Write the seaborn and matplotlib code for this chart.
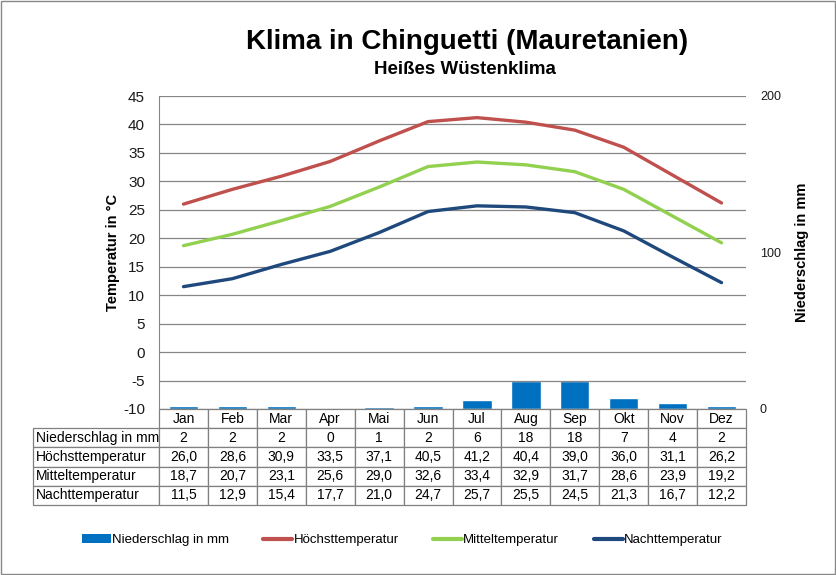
import numpy as np
import pandas as pd
import matplotlib
matplotlib.use("Agg")
import matplotlib.pyplot as plt
import seaborn as sns
from matplotlib.patches import Patch, Rectangle
from matplotlib.lines import Line2D

# Daten
monate = ['Jan', 'Feb', 'Mar', 'Apr', 'Mai', 'Jun', 'Jul', 'Aug', 'Sep', 'Okt', 'Nov', 'Dez']
niederschlag = [2, 2, 2, 0, 1, 2, 6, 18, 18, 7, 4, 2]
hoechst = [26.0, 28.6, 30.9, 33.5, 37.1, 40.5, 41.2, 40.4, 39.0, 36.0, 31.1, 26.2]
mittel = [18.7, 20.7, 23.1, 25.6, 29.0, 32.6, 33.4, 32.9, 31.7, 28.6, 23.9, 19.2]
nacht = [11.5, 12.9, 15.4, 17.7, 21.0, 24.7, 25.7, 25.5, 24.5, 21.3, 16.7, 12.2]

farbe_regen = '#0070C0'
farbe_hoch = '#C0504D'
farbe_mittel = '#92D050'
farbe_nacht = '#1F497D'

df = pd.DataFrame({'pos': np.arange(len(monate)), 'Monat': monate,
                   'Niederschlag': niederschlag, 'Hoch': hoechst,
                   'Mittel': mittel, 'Nacht': nacht})

sns.set_style("white")
plt.rcParams['font.family'] = ['Liberation Sans', 'DejaVu Sans']
plt.rcParams['axes.unicode_minus'] = False
plt.rcParams['text.color'] = 'black'
plt.rcParams['axes.labelcolor'] = 'black'

fig = plt.figure(figsize=(8.36, 5.75), dpi=100)
ax = fig.add_axes([159 / 836, 1 - 409 / 575, 587 / 836, 313 / 575])
ax2 = ax.twinx()

# Niederschlag als Balken (rechte Achse)
sns.barplot(x='pos', y='Niederschlag', data=df, ax=ax2, color=farbe_regen,
            saturation=1, width=0.6, zorder=2)

# Temperaturlinien (linke Achse)
for spalte, farbe in [('Hoch', farbe_hoch), ('Mittel', farbe_mittel), ('Nacht', farbe_nacht)]:
    sns.lineplot(x='pos', y=spalte, data=df, ax=ax, color=farbe, linewidth=2.4,
                 solid_capstyle='round', zorder=3)

ax.set_xlim(-0.5, len(monate) - 0.5)
ax.set_ylim(-10, 45)
ax.set_yticks(range(-10, 46, 5))
ax2.set_ylim(0, 200)
ax2.set_yticks([0, 100, 200])
ax.grid(axis='y', color='#868686', linewidth=0.9)
ax.set_axisbelow(True)
ax.set_xticks([])
ax2.set_xticks([])
ax.set_xlabel('')
ax2.set_xlabel('')
for s in ['top', 'right', 'bottom']:
    ax.spines[s].set_visible(False)
    ax2.spines[s].set_visible(False)
ax2.spines['left'].set_visible(False)
ax.spines['left'].set_color('#868686')
ax.tick_params(axis='y', length=0, labelsize=11, pad=10, colors='#1a1a1a')
ax2.tick_params(axis='y', length=0, labelsize=9, pad=10, colors='#1a1a1a')
ax.set_ylabel('Temperatur in °C', fontsize=10.5, fontweight='bold', labelpad=2)
ax2.set_ylabel('Niederschlag in mm', fontsize=10.5, fontweight='bold', labelpad=10)
ax.patch.set_visible(False)
ax2.set_zorder(ax.get_zorder() - 1)
ax2.patch.set_visible(True)
ax2.patch.set_facecolor('white')

# Datentabelle unter dem Diagramm
zeilen = [[''] + monate,
          ['Niederschlag in mm'] + [str(v) for v in niederschlag],
          ['Höchsttemperatur'] + [f'{v:.1f}'.replace('.', ',') for v in hoechst],
          ['Mitteltemperatur'] + [f'{v:.1f}'.replace('.', ',') for v in mittel],
          ['Nachttemperatur'] + [f'{v:.1f}'.replace('.', ',') for v in nacht]]
x0 = (33 - 159) / 587
tab = ax.table(cellText=zeilen, bbox=[x0, -96 / 313, 1 - x0, 96 / 313],
               colWidths=[126 / 713] + [48.9 / 713] * 12, cellLoc='center')
tab.auto_set_font_size(False)
tab.set_fontsize(10)
for (r, c), zelle in tab.get_celld().items():
    zelle.set_edgecolor('#808080')
    zelle.set_linewidth(0.9)
    zelle.get_text().set_color('black')
    if c == 0:
        zelle.set_text_props(ha='left')
        zelle.PAD = 0.02
    if r == 0 and c == 0:
        zelle.visible_edges = ''

# Titel
fig.text(467 / 836, 1 - 42 / 575, 'Klima in Chinguetti (Mauretanien)', ha='center', va='center',
         fontsize=20, fontweight='bold')
fig.text(465 / 836, 1 - 70 / 575, 'Heißes Wüstenklima', ha='center', va='center',
         fontsize=13.5, fontweight='bold')

# Legende
handles = [Patch(facecolor=farbe_regen, edgecolor='none'),
           Line2D([], [], color=farbe_hoch, linewidth=3),
           Line2D([], [], color=farbe_mittel, linewidth=3),
           Line2D([], [], color=farbe_nacht, linewidth=3)]
labels = ['Niederschlag in mm', 'Höchsttemperatur', 'Mitteltemperatur', 'Nachttemperatur']
fig.legend(handles, labels, loc='center', bbox_to_anchor=(402 / 836, 1 - 540 / 575), ncol=4,
           frameon=False, fontsize=9.5, handlelength=2.2, handleheight=0.7,
           handletextpad=0.1, columnspacing=2.6)

# Rahmen um die Grafik
fig.patches.append(Rectangle((0.001, 0.001), 0.998, 0.998, transform=fig.transFigure,
                             fill=False, edgecolor='#888888', linewidth=1))

fig.savefig('out.png', dpi=100)
